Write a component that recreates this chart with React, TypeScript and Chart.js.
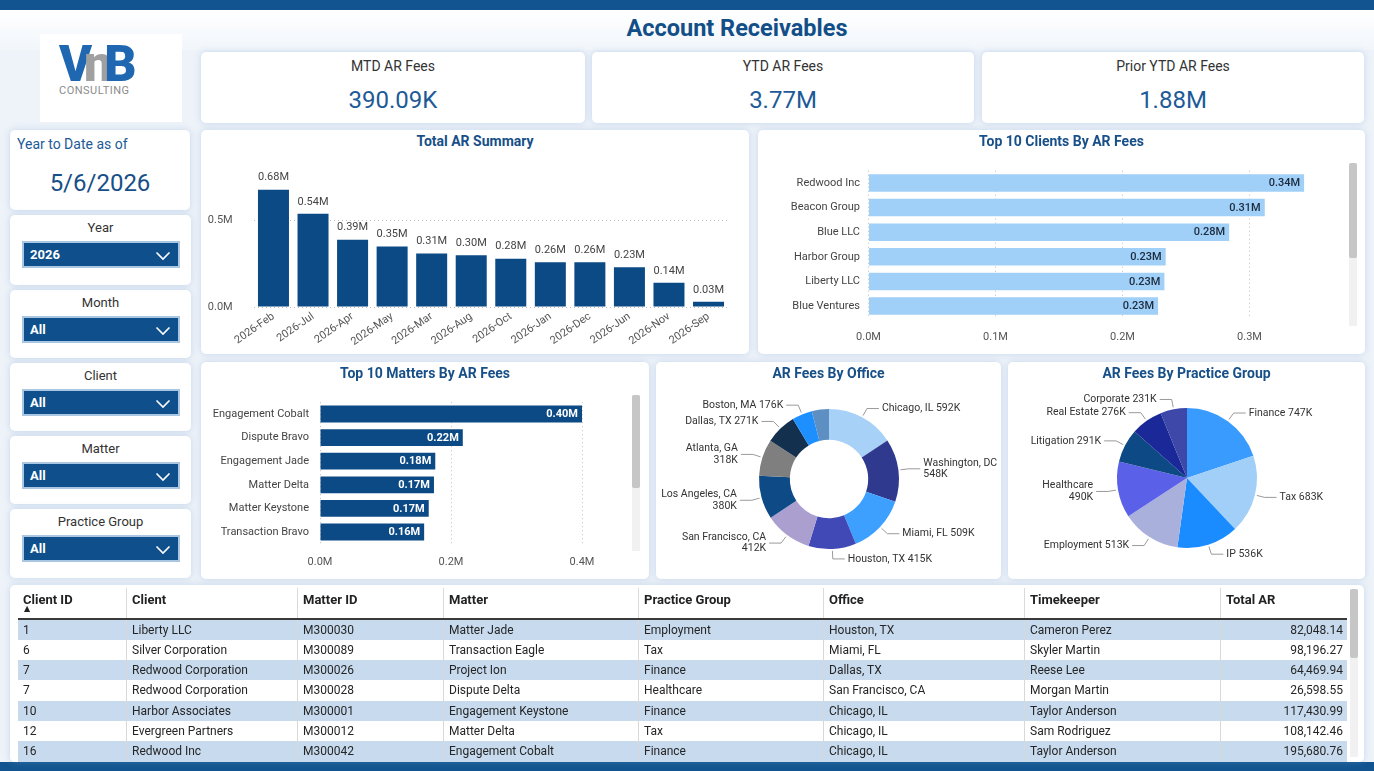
import React, { useEffect, useRef } from 'react';
import { Chart, registerables } from 'chart.js';

Chart.register(...registerables);
Chart.defaults.font.family = 'Roboto, "DejaVu Sans", sans-serif';
Chart.defaults.color = '#555';

// ---------- DATA ----------
const kpiLabels = ['MTD AR Fees', 'YTD AR Fees', 'Prior YTD AR Fees'];
const kpiValues = ['390.09K', '3.77M', '1.88M'];

const ytdLabel = 'Year to Date as of';
const ytdDate = '5/6/2026';

const slicerLabels = ['Year', 'Month', 'Client', 'Matter', 'Practice Group'];
const slicerValues = ['2026', 'All', 'All', 'All', 'All'];

const months = ['2026-Feb', '2026-Jul', '2026-Apr', '2026-May', '2026-Mar', '2026-Aug', '2026-Oct', '2026-Jan', '2026-Dec', '2026-Jun', '2026-Nov', '2026-Sep'];
const monthAR = [0.68, 0.54, 0.39, 0.35, 0.31, 0.30, 0.28, 0.26, 0.26, 0.23, 0.14, 0.03];
const monthTicks = [0, 0.5];

const clientNames = ['Redwood Inc', 'Beacon Group', 'Blue LLC', 'Harbor Group', 'Liberty LLC', 'Blue Ventures'];
const clientAR = [0.343, 0.312, 0.284, 0.234, 0.233, 0.228];
const clientTicks = [0, 0.1, 0.2, 0.3];

const matterNames = ['Engagement Cobalt', 'Dispute Bravo', 'Engagement Jade', 'Matter Delta', 'Matter Keystone', 'Transaction Bravo'];
const matterAR = [0.400, 0.218, 0.176, 0.174, 0.166, 0.159];
const matterTicks = [0, 0.2, 0.4];

const officeNames = ['Chicago, IL', 'Washington, DC', 'Miami, FL', 'Houston, TX', 'San Francisco, CA', 'Los Angeles, CA', 'Atlanta, GA', 'Dallas, TX', 'Boston, MA', 'Other'];
const officeAR = [592, 548, 509, 415, 412, 380, 318, 271, 176, 149];
const officeColors = ['#a8d1f8', '#2f3a8f', '#3da0ff', '#4049b5', '#ab9fd0', '#0e4a86', '#7f7f7f', '#13304f', '#1e8fff', '#5d8fc2'];

const practiceNames = ['Finance', 'Tax', 'IP', 'Employment', 'Healthcare', 'Litigation', 'Real Estate', 'Corporate'];
const practiceAR = [747, 683, 536, 513, 490, 291, 276, 231];
const practiceColors = ['#3a9bff', '#a1cff8', '#1a8cff', '#aab0dc', '#5b60e8', '#0d4a85', '#1b2897', '#3d48a8'];

const tableHeaders = ['Client ID', 'Client', 'Matter ID', 'Matter', 'Practice Group', 'Office', 'Timekeeper', 'Total AR'];
const colClientId = ['1', '6', '7', '7', '10', '12', '16'];
const colClient = ['Liberty LLC', 'Silver Corporation', 'Redwood Corporation', 'Redwood Corporation', 'Harbor Associates', 'Evergreen Partners', 'Redwood Inc'];
const colMatterId = ['M300030', 'M300089', 'M300026', 'M300028', 'M300001', 'M300012', 'M300042'];
const colMatter = ['Matter Jade', 'Transaction Eagle', 'Project Ion', 'Dispute Delta', 'Engagement Keystone', 'Matter Delta', 'Engagement Cobalt'];
const colPractice = ['Employment', 'Tax', 'Finance', 'Healthcare', 'Finance', 'Tax', 'Finance'];
const colOffice = ['Houston, TX', 'Miami, FL', 'Dallas, TX', 'San Francisco, CA', 'Chicago, IL', 'Chicago, IL', 'Chicago, IL'];
const colTimekeeper = ['Cameron Perez', 'Skyler Martin', 'Reese Lee', 'Morgan Martin', 'Taylor Anderson', 'Sam Rodriguez', 'Taylor Anderson'];
const colTotal = [82048.14, 98196.27, 64469.94, 26598.55, 117430.99, 108142.46, 195680.76];

// ---------- STYLE CONSTANTS ----------
const FONT = 'Roboto, "DejaVu Sans", sans-serif';
const NAVY = '#0c4a86';
const TITLE_BLUE = '#174f88';

// ---------- PLUGINS ----------
const valueLabels = {
  id: 'valueLabels',
  afterDatasetsDraw(chart: any, _a: any, opts: any) {
    if (!opts || !opts.mode) return;
    const ctx = chart.ctx;
    const meta = chart.getDatasetMeta(0);
    const data = chart.data.datasets[0].data;
    ctx.save();
    ctx.font = opts.font;
    ctx.fillStyle = opts.color;
    meta.data.forEach((el: any, i: number) => {
      const txt = Number(data[i]).toFixed(2) + 'M';
      if (opts.mode === 'top') {
        ctx.textAlign = 'center';
        ctx.textBaseline = 'middle';
        ctx.fillText(txt, el.x, el.y - 12);
      } else {
        ctx.textAlign = 'right';
        ctx.textBaseline = 'middle';
        ctx.fillText(txt, el.x - 4, el.y + 0.5);
      }
    });
    ctx.restore();
  },
};

const sliceLabels = {
  id: 'sliceLabels',
  afterDatasetsDraw(chart: any, _a: any, opts: any) {
    if (!opts || !opts.on) return;
    const ctx = chart.ctx;
    const meta = chart.getDatasetMeta(0);
    const names = chart.data.labels;
    const vals = chart.data.datasets[0].data;
    const skip: number[] = opts.skip || [];
    const lh = 11.5;
    ctx.save();
    ctx.font = '10.5px ' + FONT;
    const left: any[] = [];
    const right: any[] = [];
    meta.data.forEach((arc: any, i: number) => {
      if (skip.includes(i)) return;
      const p = arc.getProps(['x', 'y', 'startAngle', 'endAngle', 'outerRadius'], true);
      const mid = (p.startAngle + p.endAngle) / 2;
      const c = Math.cos(mid);
      const s = Math.sin(mid);
      const r0 = p.outerRadius + 2;
      const r1 = p.outerRadius + 10;
      const isRight = c >= 0;
      const ex = p.x + r1 * c;
      const ey = p.y + r1 * s;
      const hx = ex + (isRight ? 12 : -12);
      const tx = hx + (isRight ? 3 : -3);
      const full = `${names[i]} ${vals[i]}K`;
      const avail = isRight ? chart.width - opts.edge - tx : tx - opts.edge;
      const lines = ctx.measureText(full).width > avail ? [String(names[i]), `${vals[i]}K`] : [full];
      const item = { sx: p.x + r0 * c, sy: p.y + r0 * s, ex, hx, tx, y: ey, lines, h: lines.length * lh, isRight };
      (isRight ? right : left).push(item);
    });
    const resolve = (arr: any[]) => {
      arr.sort((a, b) => a.y - b.y);
      for (let k = 1; k < arr.length; k++) {
        const prev = arr[k - 1];
        const cur = arr[k];
        const minY = prev.y + prev.h / 2 + cur.h / 2 + 1;
        if (cur.y < minY) cur.y = minY;
      }
    };
    resolve(left);
    resolve(right);
    ctx.strokeStyle = '#9a9a9a';
    ctx.lineWidth = 1;
    ctx.fillStyle = '#333';
    ctx.textBaseline = 'middle';
    [...left, ...right].forEach((it) => {
      ctx.beginPath();
      ctx.moveTo(it.sx, it.sy);
      ctx.lineTo(it.ex, it.y);
      ctx.lineTo(it.hx, it.y);
      ctx.stroke();
      ctx.textAlign = it.isRight ? 'left' : 'right';
      it.lines.forEach((ln: string, k: number) => ctx.fillText(ln, it.tx, it.y - it.h / 2 + lh / 2 + k * lh));
    });
    ctx.restore();
  },
};

// ---------- CHART CONFIGS ----------
const fmtM = (v: any) => Number(v).toFixed(1) + 'M';
const dotted = { display: false, dash: [1, 3] };
const gridStyle = { color: '#bdbdbd', drawTicks: false, tickLength: 0, lineWidth: 1 };
const noGrid = { display: false, drawTicks: false, tickLength: 0 };
const noAnim = { animation: false as const, responsive: false, events: [] as any[] };

function arSummaryConfig(): any {
  return {
    type: 'bar',
    data: { labels: months, datasets: [{ data: monthAR, backgroundColor: NAVY, categoryPercentage: 0.8, barPercentage: 0.98 }] },
    options: {
      ...noAnim,
      layout: { padding: { top: 22, right: 20.7, left: 0, bottom: 0 } },
      plugins: { legend: { display: false }, tooltip: { enabled: false }, valueLabels: { mode: 'top', font: '11px ' + FONT, color: '#444' } },
      scales: {
        x: {
          grid: noGrid,
          border: { display: false },
          ticks: { minRotation: 35, maxRotation: 35, autoSkip: false, color: '#555', font: { size: 11 }, padding: 3 },
          afterFit: (s: any) => { s.height = 47; },
        },
        y: {
          min: 0,
          max: 0.75,
          afterBuildTicks: (s: any) => { s.ticks = monthTicks.map((value) => ({ value })); },
          ticks: { callback: fmtM, padding: 21, color: '#555', font: { size: 11 } },
          grid: gridStyle,
          border: dotted,
          afterFit: (s: any) => { s.width = 52.7; },
        },
      },
    },
    plugins: [valueLabels],
  };
}

function hbarConfig(labels: string[], values: number[], ticks: number[], max: number, color: string, lbl: any, dims: any): any {
  return {
    type: 'bar',
    data: { labels, datasets: [{ data: values, backgroundColor: color, categoryPercentage: 1, barPercentage: 0.71 }] },
    options: {
      ...noAnim,
      indexAxis: 'y',
      layout: { padding: { top: dims.top, right: dims.right, left: 0, bottom: 0 } },
      plugins: { legend: { display: false }, tooltip: { enabled: false }, valueLabels: lbl },
      scales: {
        y: {
          grid: noGrid,
          border: { display: false },
          ticks: { color: '#444', font: { size: 11 }, padding: dims.ypad },
          afterFit: (s: any) => { s.width = dims.yw; },
        },
        x: {
          min: 0,
          max,
          afterBuildTicks: (s: any) => { s.ticks = ticks.map((value) => ({ value })); },
          ticks: { callback: fmtM, padding: dims.xpad, color: '#555', font: { size: 11 } },
          grid: gridStyle,
          border: dotted,
          afterFit: (s: any) => { s.height = dims.xh; },
        },
      },
    },
    plugins: [valueLabels],
  };
}

function pieConfig(labels: string[], values: number[], colors: string[], cutout: string, pad: any, skip: number[]): any {
  return {
    type: 'doughnut',
    data: { labels, datasets: [{ data: values, backgroundColor: colors, borderWidth: 0 }] },
    options: {
      ...noAnim,
      cutout,
      layout: { padding: pad },
      plugins: { legend: { display: false }, tooltip: { enabled: false }, sliceLabels: { on: true, skip, edge: 8 } },
    },
    plugins: [sliceLabels],
  };
}

// ---------- COMPONENTS ----------
function ChartBox({ left, top, width, height, make }: any) {
  const ref = useRef<HTMLCanvasElement>(null);
  useEffect(() => {
    const chart = new Chart(ref.current as HTMLCanvasElement, make());
    return () => chart.destroy();
  }, []);
  return <canvas ref={ref} width={width} height={height} style={{ position: 'absolute', left, top, width, height }} />;
}

const cardStyle = (left: number, top: number, width: number, height: number): React.CSSProperties => ({
  position: 'absolute',
  left,
  top,
  width,
  height,
  background: '#fff',
  borderRadius: 5,
  boxShadow: '0 0 7px rgba(120,160,210,0.35)',
});

function CardTitle({ text, left, top, width }: any) {
  return (
    <div style={{ position: 'absolute', left, top, width, height: 18, lineHeight: '18px', textAlign: 'center', fontSize: 14, fontWeight: 700, color: TITLE_BLUE }}>
      {text}
    </div>
  );
}

function Chevron() {
  return (
    <svg width="16" height="10" viewBox="0 0 16 10" style={{ position: 'absolute', right: 7, top: 8 }}>
      <polyline points="1.5,1.5 8,8 14.5,1.5" fill="none" stroke="#fff" strokeWidth="1.6" />
    </svg>
  );
}

function Scrollbar({ left, top, height, thumb }: any) {
  return (
    <div style={{ position: 'absolute', left, top, width: 8, height, background: '#f1f1f1' }}>
      <div style={{ position: 'absolute', left: 0, top: 0, width: 8, height: thumb, background: '#c6c6c6', borderRadius: 2 }} />
    </div>
  );
}

const slicerTops = [215, 290, 363, 436, 509];
const slicerHeights = [70, 68, 68, 68, 69];
const colLefts = [18, 126, 297, 443, 638, 823, 1024, 1220];
const colRight = 1347;

export default function App() {
  useEffect(() => {
    document.body.style.margin = '0';
  }, []);

  const columns = [colClientId, colClient, colMatterId, colMatter, colPractice, colOffice, colTimekeeper, colTotal.map((v) => v.toLocaleString('en-US', { minimumFractionDigits: 2, maximumFractionDigits: 2 }))];
  const rowH = 20.3;

  return (
    <div style={{ position: 'fixed', left: 0, top: 0, width: 1374, height: 771, overflow: 'hidden', background: '#eef3f9', fontFamily: FONT, color: '#333' }}>
      {/* top header band */}
      <div style={{ position: 'absolute', left: 0, top: 10, width: 1374, height: 40, background: 'linear-gradient(#ffffff, #f1f6fb)' }} />
      <div style={{ position: 'absolute', left: 0, top: 0, width: 1374, height: 10, background: '#11548f' }} />
      <div style={{ position: 'absolute', left: 0, top: 762, width: 1374, height: 9, background: '#11548f' }} />

      <div style={{ position: 'absolute', left: 487, top: 13, width: 500, height: 30, lineHeight: '30px', textAlign: 'center', fontSize: 23.5, fontWeight: 700, color: '#124e87' }}>
        Account Receivables
      </div>

      {/* logo */}
      <div style={{ position: 'absolute', left: 40, top: 34, width: 142, height: 88, background: '#fff' }}>
        <div style={{ position: 'absolute', left: 19, top: 3, fontSize: 50, fontWeight: 900, letterSpacing: -8, lineHeight: '54px', whiteSpace: 'nowrap' }}>
          <span style={{ color: '#1f67b1' }}>V</span>
          <span style={{ color: '#a0a0a0' }}>n</span>
          <span style={{ color: '#1f67b1' }}>B</span>
        </div>
        <div style={{ position: 'absolute', left: 19, top: 50, fontSize: 11, letterSpacing: 0.5, color: '#8c8c8c' }}>CONSULTING</div>
      </div>

      {/* KPI cards */}
      {kpiLabels.map((lab, i) => {
        const lefts = [201, 592, 982];
        const widths = [384, 382, 382];
        return (
          <div key={lab} style={cardStyle(lefts[i], 52, widths[i], 71)}>
            <div style={{ position: 'absolute', left: 0, top: 6, width: '100%', textAlign: 'center', fontSize: 14, lineHeight: '16px', color: '#333' }}>{lab}</div>
            <div style={{ position: 'absolute', left: 0, top: 33, width: '100%', textAlign: 'center', fontSize: 24, lineHeight: '30px', color: '#1d5a98' }}>{kpiValues[i]}</div>
          </div>
        );
      })}

      {/* YTD card */}
      <div style={cardStyle(10, 130, 180, 80)}>
        <div style={{ position: 'absolute', left: 7, top: 6, fontSize: 14, lineHeight: '16px', color: '#1d5a98' }}>{ytdLabel}</div>
        <div style={{ position: 'absolute', left: 0, top: 38, width: '100%', textAlign: 'center', fontSize: 24, lineHeight: '30px', color: '#174f88' }}>{ytdDate}</div>
      </div>

      {/* slicers */}
      {slicerLabels.map((lab, i) => (
        <div key={lab} style={cardStyle(10, slicerTops[i], 181, slicerHeights[i])}>
          <div style={{ position: 'absolute', left: 0, top: 5, width: '100%', textAlign: 'center', fontSize: 13, lineHeight: '16px', color: '#333' }}>{lab}</div>
          <div style={{ position: 'absolute', left: 12, top: 26, width: 158, height: 27, boxSizing: 'border-box', background: '#0f4f8c', border: '2px solid #a9c6e2' }}>
            <div style={{ position: 'absolute', left: 6, top: 3, fontSize: 13, lineHeight: '17px', fontWeight: 700, color: '#fff' }}>{slicerValues[i]}</div>
            <Chevron />
          </div>
        </div>
      ))}

      {/* Total AR Summary */}
      <div style={cardStyle(201, 130, 548, 224)} />
      <CardTitle text="Total AR Summary" left={201} top={132} width={548} />
      <ChartBox left={201} top={150} width={548} height={204} make={arSummaryConfig} />

      {/* Top 10 Clients */}
      <div style={cardStyle(758, 130, 607, 224)} />
      <CardTitle text="Top 10 Clients By AR Fees" left={758} top={132} width={607} />
      <ChartBox
        left={758}
        top={152}
        width={607}
        height={204}
        make={() => hbarConfig(clientNames, clientAR, clientTicks, 0.37, '#a0cff8', { mode: 'end', font: '500 11px ' + FONT, color: '#1c2b3d' }, { top: 18.7, right: 26.6, yw: 110.5, ypad: 8.5, xpad: 12, xh: 37.7 })}
      />
      <Scrollbar left={1349} top={163} height={163} thumb={95} />

      {/* Top 10 Matters */}
      <div style={cardStyle(201, 362, 448, 217)} />
      <CardTitle text="Top 10 Matters By AR Fees" left={201} top={364} width={448} />
      <ChartBox
        left={201}
        top={384}
        width={448}
        height={195}
        make={() => hbarConfig(matterNames, matterAR, matterTicks, 0.46, NAVY, { mode: 'end', font: 'bold 11px ' + FONT, color: '#ffffff' }, { top: 18.2, right: 27.7, yw: 119, ypad: 11, xpad: 12, xh: 35.2 })}
      />
      <Scrollbar left={632} top={395} height={156} thumb={93} />

      {/* AR Fees by Office */}
      <div style={cardStyle(656, 362, 345, 217)} />
      <CardTitle text="AR Fees By Office" left={656} top={364} width={345} />
      <ChartBox left={656} top={362} width={345} height={217} make={() => pieConfig(officeNames, officeAR, officeColors, '56%', { top: 47, bottom: 30, left: 103, right: 102 }, [9])} />

      {/* AR Fees by Practice Group */}
      <div style={cardStyle(1008, 362, 357, 217)} />
      <CardTitle text="AR Fees By Practice Group" left={1008} top={364} width={357} />
      <ChartBox left={1008} top={362} width={357} height={217} make={() => pieConfig(practiceNames, practiceAR, practiceColors, '0%', { top: 46, bottom: 31, left: 109, right: 108 }, [])} />

      {/* Table */}
      <div style={cardStyle(10, 585, 1354, 177)} />
      {tableHeaders.map((h, c) => {
        const l = colLefts[c];
        const w = (c < 7 ? colLefts[c + 1] : colRight) - l;
        return (
          <div key={h} style={{ position: 'absolute', left: l, top: 588, width: w, height: 31, boxSizing: 'border-box', borderLeft: c > 0 ? '1px solid #dadada' : 'none', fontSize: 13, fontWeight: 700, color: '#222', paddingLeft: 5, lineHeight: '16px', paddingTop: 4 }}>
            {h}
          </div>
        );
      })}
      <div style={{ position: 'absolute', left: 24, top: 604, fontSize: 8, color: '#222' }}>▲</div>
      <div style={{ position: 'absolute', left: 18, top: 618, width: colRight - 18, height: 1.5, background: '#3a3a3a' }} />
      {colClientId.map((_, r) => (
        <div key={r} style={{ position: 'absolute', left: 18, top: 619.5 + r * rowH, width: colRight - 18, height: rowH, background: r % 2 === 0 ? '#c8dbee' : '#ffffff' }}>
          {columns.map((col, c) => {
            const l = colLefts[c] - 18;
            const w = (c < 7 ? colLefts[c + 1] : colRight) - colLefts[c];
            const isNum = c === 7;
            return (
              <div key={c} style={{ position: 'absolute', left: l, top: 0, width: w, height: rowH, boxSizing: 'border-box', borderLeft: c > 0 ? '1px solid #d8d8d8' : 'none', fontSize: 12, color: '#252525', lineHeight: rowH + 'px', paddingLeft: 5, paddingRight: 4, textAlign: isNum ? 'right' : 'left', whiteSpace: 'nowrap' }}>
                {col[r]}
              </div>
            );
          })}
        </div>
      ))}
      <Scrollbar left={1350} top={589} height={168} thumb={69} />
    </div>
  );
}
